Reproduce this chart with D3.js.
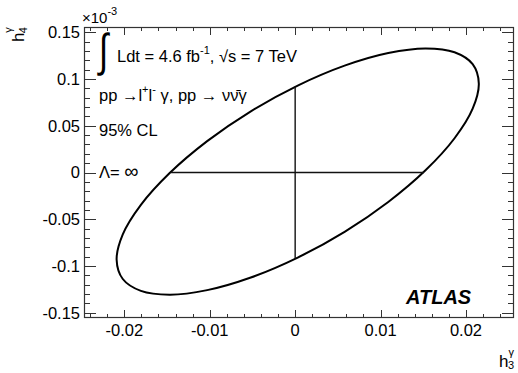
<!DOCTYPE html>
<html>
<head>
<meta charset="utf-8">
<script src="https://cdn.jsdelivr.net/npm/d3@7"></script>
<style>
  body { margin: 0; background: #fff; }
  text { font-family: "Liberation Sans", Arial, Helvetica, sans-serif; fill: #000; }
</style>
</head>
<body>
<div id="chart"></div>
<script>
// contour of the 95% CL region
const contourH3 = [0.0215, 0.02078, 0.01866, 0.01529, 0.0109, 0.00579, 0.0003, -0.00519,
  -0.0103, -0.01469, -0.01806, -0.02018, -0.0209, -0.02018, -0.01806, -0.01469,
  -0.0103, -0.00519, 0.0003, 0.00579, 0.0109, 0.01529, 0.01866, 0.02078]
const contourH4 = [0.0952, 0.1158, 0.1285, 0.1326, 0.1277, 0.1142, 0.0929, 0.0654,
  0.0335, -0.0006, -0.0346, -0.0662, -0.0932, -0.1138, -0.1265, -0.1306,
  -0.1257, -0.1122, -0.0909, -0.0634, -0.0315, 0.0026, 0.0366, 0.0682]

// 1D limits (the cross)
const h3Limits = [-0.01457, 0.01508]
const h4Limits = [-0.0919, 0.0919]

const xTicks = [-0.02, -0.01, 0, 0.01, 0.02]
const xTickLabels = ["-0.02", "-0.01", "0", "0.01", "0.02"]
const yTicks = [-0.15, -0.1, -0.05, 0, 0.05, 0.1, 0.15]
const yTickLabels = ["-0.15", "-0.1", "-0.05", "0", "0.05", "0.1", "0.15"]

const W = 518, H = 373
const padL = 84, padR = 514, padT = 27, padB = 318

const svg = d3.select("#chart").append("svg")
  .attr("width", W).attr("height", H)

const x = d3.scaleLinear().domain([-0.02472, 0.02562]).range([padL, padR])
const y = d3.scaleLinear().domain([-0.1555, 0.1555]).range([padB, padT])

// minor ticks
const xMinor = d3.range(-24, 26, 2).map(d => d / 1000).filter(d => Math.abs(d * 100 - Math.round(d * 100)) > 1e-6)
const yMinor = d3.range(-15, 16, 1).map(d => d / 100).filter(d => Math.abs(d * 20 - Math.round(d * 20)) > 1e-6)

const tk = svg.append("g").attr("stroke", "#333").attr("stroke-width", 1)

// x ticks bottom + top
xTicks.forEach(d => {
  const px = Math.round(x(d)) + 0.5
  tk.append("line").attr("x1", px).attr("x2", px).attr("y1", padB).attr("y2", padB - 8)
  tk.append("line").attr("x1", px).attr("x2", px).attr("y1", padT).attr("y2", padT + 8)
})
xMinor.forEach(d => {
  const px = Math.round(x(d)) + 0.5
  tk.append("line").attr("x1", px).attr("x2", px).attr("y1", padB).attr("y2", padB - 4)
  tk.append("line").attr("x1", px).attr("x2", px).attr("y1", padT).attr("y2", padT + 4)
})
// y ticks left + right
yTicks.forEach(d => {
  const py = Math.round(y(d)) + 0.5
  tk.append("line").attr("y1", py).attr("y2", py).attr("x1", padL).attr("x2", padL + 12)
  tk.append("line").attr("y1", py).attr("y2", py).attr("x1", padR).attr("x2", padR - 12)
})
yMinor.forEach(d => {
  const py = Math.round(y(d)) + 0.5
  tk.append("line").attr("y1", py).attr("y2", py).attr("x1", padL).attr("x2", padL + 6)
  tk.append("line").attr("y1", py).attr("y2", py).attr("x1", padR).attr("x2", padR - 6)
})

// frame
svg.append("rect")
  .attr("x", padL + 0.5).attr("y", padT + 0.5)
  .attr("width", padR - padL - 1).attr("height", padB - padT - 1)
  .attr("fill", "none").attr("stroke", "#333").attr("stroke-width", 1.2)

// tick labels
svg.append("g").selectAll("text").data(xTicks).join("text")
  .attr("x", d => x(d)).attr("y", 336)
  .attr("text-anchor", "middle").attr("font-size", 16.5)
  .text((d, i) => xTickLabels[i])

svg.append("g").selectAll("text").data(yTicks).join("text")
  .attr("x", 80).attr("y", d => y(d)).attr("dy", "0.36em")
  .attr("text-anchor", "end").attr("font-size", 16.5)
  .text((d, i) => yTickLabels[i])

// x10^-3
const mult = svg.append("text").attr("x", 82).attr("y", 23).attr("font-size", 15)
mult.append("tspan").text("\u00d710")
mult.append("tspan").attr("font-size", 11).attr("dy", -8).text("-3")

// axis titles
const xt = svg.append("text").attr("x", 514).attr("y", 367).attr("text-anchor", "end").attr("font-size", 17)
xt.append("tspan").text("h")
xt.append("tspan").attr("font-size", 11).attr("dy", -11).text("\u03b3")
xt.append("tspan").attr("font-size", 11).attr("dy", 13).attr("dx", -6).text("3")

const yt = svg.append("text").attr("transform", "translate(24,27) rotate(-90)")
  .attr("text-anchor", "end").attr("font-size", 17)
yt.append("tspan").text("h")
yt.append("tspan").attr("font-size", 11).attr("dy", -12).text("\u03b3")
yt.append("tspan").attr("font-size", 11).attr("dy", 15).attr("dx", -6).text("4")

// contour
const pts = contourH3.map((d, i) => [x(d), y(contourH4[i])])
svg.append("path")
  .attr("d", d3.line().curve(d3.curveCatmullRomClosed.alpha(0.5))(pts))
  .attr("fill", "none").attr("stroke", "#000").attr("stroke-width", 2)

// cross
svg.append("line")
  .attr("x1", x(h3Limits[0])).attr("x2", x(h3Limits[1]))
  .attr("y1", y(0)).attr("y2", y(0))
  .attr("stroke", "#111").attr("stroke-width", 1.4)
svg.append("line")
  .attr("x1", x(0)).attr("x2", x(0))
  .attr("y1", y(h4Limits[0])).attr("y2", y(h4Limits[1]))
  .attr("stroke", "#111").attr("stroke-width", 1.4)

// annotations
svg.append("text").attr("transform", "translate(99,66) scale(1,1.35)").attr("font-size", 34)
  .attr("font-family", "DejaVu Sans").attr("font-weight", 200).text("\u222b")

const l1 = svg.append("text").attr("x", 117).attr("y", 62).attr("font-size", 16.5)
l1.append("tspan").text("Ldt = 4.6 fb")
l1.append("tspan").attr("font-size", 11).attr("dy", -8).text("-1")
l1.append("tspan").attr("dy", 8).text(", \u221As = 7 TeV")

const l2 = svg.append("text").attr("x", 99).attr("y", 101).attr("font-size", 16.5)
l2.append("tspan").text("pp \u2192l")
l2.append("tspan").attr("font-size", 11).attr("dy", -8).text("+")
l2.append("tspan").attr("dy", 8).text("l")
l2.append("tspan").attr("font-size", 11).attr("dy", -8).text("-")
l2.append("tspan").attr("dy", 8).text(" \u03b3, pp \u2192 \u03bd\u03bd\u0304\u03b3")

svg.append("text").attr("x", 99).attr("y", 136).attr("font-size", 16.5).text("95% CL")
const l4 = svg.append("text").attr("x", 99).attr("y", 178).attr("font-size", 16.5)
l4.append("tspan").text("\u039b= ")
l4.append("tspan").attr("font-size", 20).text("\u221e")

svg.append("text").attr("x", 406).attr("y", 304).attr("font-size", 20)
  .attr("font-weight", "bold").attr("font-style", "italic").text("ATLAS")
</script>
</body>
</html>
